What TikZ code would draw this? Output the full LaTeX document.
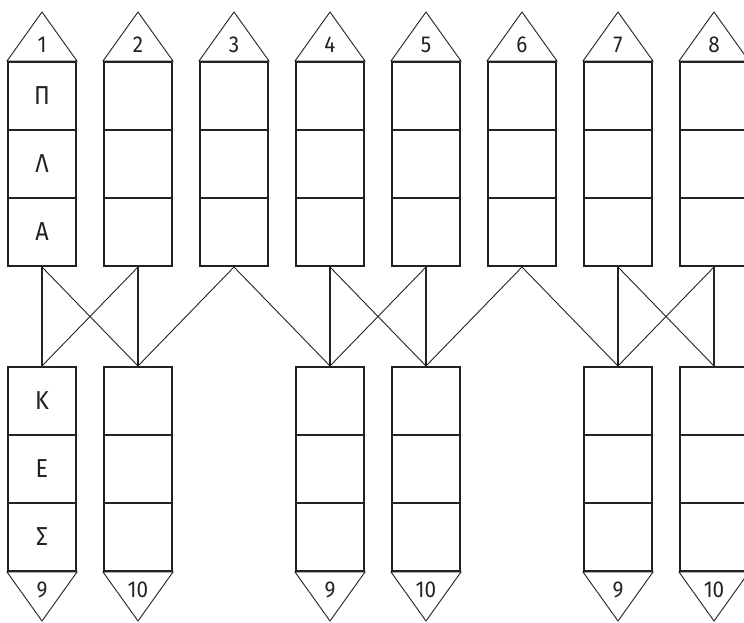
\documentclass[tikz,border=0pt]{standalone}
\usepackage{fontspec}
\setmainfont{Fira Sans}[FakeStretch=0.9]
\definecolor{ink}{HTML}{222222}
\tikzset{
  cell/.style={draw=ink, line width=2pt, minimum width=68pt, minimum height=68pt, inner sep=0pt, text=ink, font=\fontsize{26}{26}\selectfont},
  letter/.style={text=ink, inner sep=0pt, font=\fontsize{26}{26}\selectfont},
  tri/.style={draw=ink, line width=0.9pt, line join=miter},
  numlbl/.style={text=ink, inner sep=0pt, font=\fontsize{23}{23}\selectfont},
  thick link/.style={draw=ink, line width=2pt},
  thin link/.style={draw=ink, line width=0.9pt},
}
\begin{document}
\begin{tikzpicture}[x=1pt,y=-1pt]
\clip (0,0) rectangle (744,622);
% top columns
\foreach \i in {1,...,8}{
  \pgfmathsetmacro{\xx}{42+96*(\i-1)}
  \node[cell] (t\i a) at (\xx,96) {};
  \node[cell] (t\i b) at (\xx,164) {};
  \node[cell] (t\i c) at (\xx,232) {};
  \path[tri] (t\i a.north west) -- (\xx,12) coordinate (t\i apex) -- (t\i a.north east) -- cycle;
  \node[numlbl] (t\i n) at (\xx,45) {\i};
}
% bottom columns
\foreach \j/\lab in {1/9,2/10,4/9,5/10,7/9,8/10}{
  \pgfmathsetmacro{\xx}{42+96*(\j-1)}
  \node[cell] (b\j a) at (\xx,401) {};
  \node[cell] (b\j b) at (\xx,469) {};
  \node[cell] (b\j c) at (\xx,537) {};
  \path[tri] (b\j c.south west) -- (\xx,621) coordinate (b\j apex) -- (b\j c.south east) -- cycle;
  \node[numlbl] (b\j n) at (\xx,590) {\lab};
}
% letters
\node[letter] (lp) at (t1a) {Π};
\node[letter] (ll) at (t1b) {Λ};
\node[letter] (la) at (t1c) {Α};
\node[letter] (lk) at (b1a) {Κ};
\node[letter] (le) at (b1b) {Ε};
\node[letter] (ls) at (b1c) {Σ};
% vertical links
\foreach \k in {1,2,4,5,7,8}{
  \path[thick link] (t\k c.south) -- (b\k a.north);
}
% diagonal links
\foreach \s/\d in {1/2,2/1,3/2,3/4,4/5,5/4,6/5,6/7,7/8,8/7}{
  \path[thin link] (t\s c.south) -- (b\d a.north);
}
\end{tikzpicture}
\end{document}
